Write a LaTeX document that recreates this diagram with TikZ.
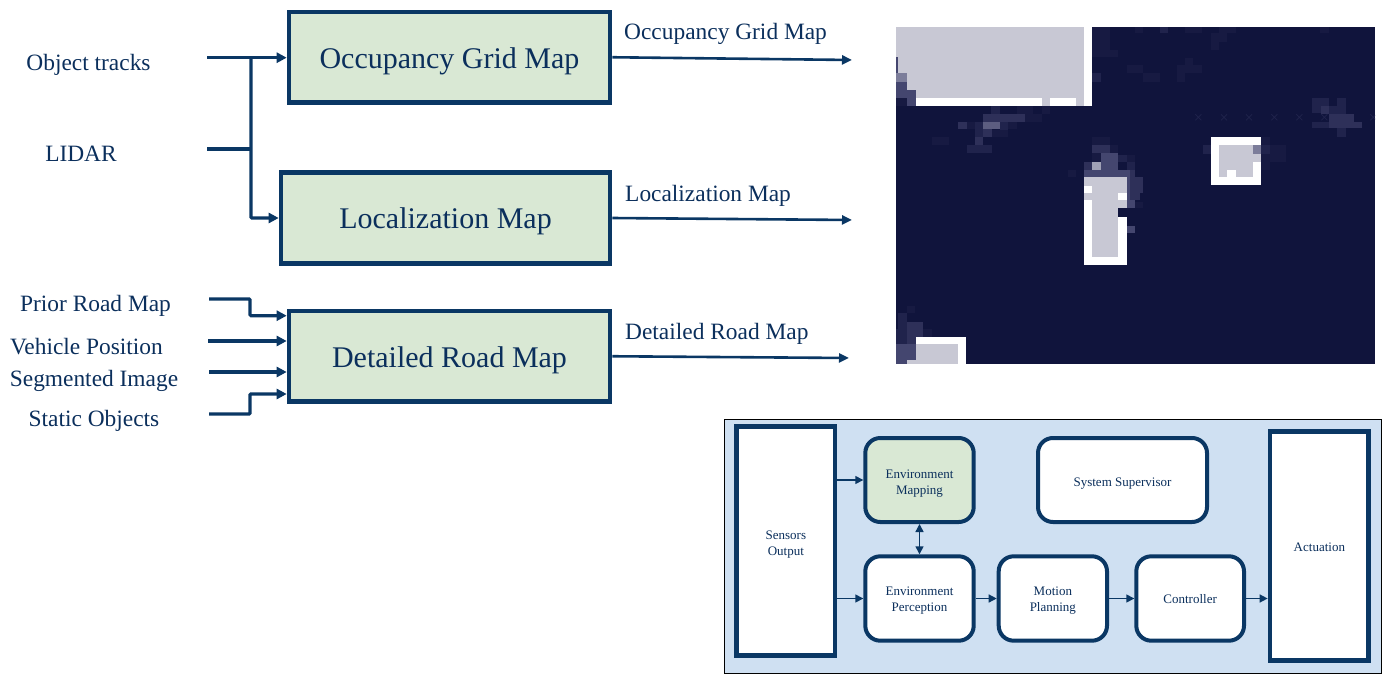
\documentclass[tikz,border=0pt]{standalone}
\usepackage{fontspec}
\setmainfont{Liberation Serif}
\usetikzlibrary{arrows.meta}
\definecolor{ink}{HTML}{0B2F5C}
\definecolor{linec}{HTML}{0A3764}
\definecolor{boxgreen}{HTML}{D9E8D4}
\definecolor{panel}{HTML}{CFE0F2}
\definecolor{navy}{HTML}{10143C}
\definecolor{gry}{HTML}{C8C8D4}
\definecolor{nA}{HTML}{171A42}
\definecolor{nB}{HTML}{20234C}
\definecolor{nC}{HTML}{2E3059}
\definecolor{nD}{HTML}{44466F}
\definecolor{nG}{HTML}{5C5D80}
\definecolor{nE}{HTML}{7C7D9A}
\definecolor{nF}{HTML}{A0A1B6}
\newcommand{\rc}[5]{\fill[#5] (#1,#2) rectangle (#3,#4);}
\newcommand{\lift}[1]{\rule{0pt}{#1pt}}
\tikzset{
  x=1pt,y=-1pt,
  bigbox/.style={draw=linec,fill=boxgreen,line width=4.6pt,rectangle,align=center,text=ink,font=\fontsize{30}{34}\selectfont},
  subbox/.style={draw=linec,fill=white,line width=4pt,rectangle,rounded corners=15pt,align=center,text=ink,font=\fontsize{13}{16}\selectfont},
  endbox/.style={draw=linec,fill=white,line width=4.7pt,rectangle,align=center,text=ink,font=\fontsize{13}{16}\selectfont},
  lab/.style={text=ink,font=\fontsize{23.4}{26}\selectfont,inner sep=0pt},
  thick wire/.style={draw=linec,line width=3.2pt},
  in arrow/.style={draw=linec,line width=3.2pt,-{Triangle[length=10pt,width=10pt]}},
  out arrow/.style={draw=linec,line width=2.6pt,-{Triangle[length=10pt,width=9pt]}},
  sub arrow/.style={draw=linec,line width=1.4pt,-{Triangle[length=8pt,width=8pt]}},
  both arrow/.style={draw=linec,line width=1.4pt,{Triangle[length=8pt,width=8pt]}-{Triangle[length=8pt,width=8pt]}},
}
\begin{document}
\begin{tikzpicture}
\useasboundingbox (0,0) rectangle (1389,682);
% map
\begin{scope}
\clip (896,27) rectangle (1375,364);
\fill[navy] (896,27) rectangle (1375,364);
\begin{scope}[shift={(890,20)},x=0.33333pt,y=-0.33333pt]
\rc{18}{22}{583}{257}{gry}
\rc{583}{22}{607}{257}{white}
\rc{77}{233}{455}{257}{white}
\rc{481}{233}{558}{257}{white}
\rc{18}{110}{24}{160}{nD}
\rc{18}{158}{50}{185}{nE}
\rc{18}{185}{50}{233}{nD}
\rc{50}{210}{77}{257}{nD}
\rc{18}{233}{50}{257}{nA}
\rc{607}{22}{660}{110}{nA}
\rc{660}{90}{683}{110}{nA}
\rc{607}{158}{633}{185}{nB}
\rc{710}{135}{750}{158}{nA}
\rc{304}{257}{330}{282}{nB}
\rc{380}{257}{430}{282}{nA}
\rc{455}{257}{480}{282}{nA}
\rc{280}{282}{405}{305}{nC}
\rc{405}{282}{455}{305}{nA}
\rc{205}{305}{230}{328}{nC}
\rc{230}{305}{255}{328}{nA}
\rc{255}{305}{280}{375}{nB}
\rc{280}{305}{330}{328}{nG}
\rc{330}{305}{355}{350}{nB}
\rc{355}{305}{380}{328}{nA}
\rc{280}{328}{305}{350}{nC}
\rc{305}{330}{355}{350}{nA}
\rc{255}{350}{280}{375}{nC}
\rc{230}{375}{305}{400}{nB}
\rc{125}{350}{178}{375}{nA}
% building top
\rc{607}{350}{660}{375}{nA}
\rc{607}{375}{660}{400}{nC}
\rc{660}{375}{685}{400}{nA}
\rc{633}{400}{685}{450}{nD}
\rc{607}{400}{633}{427}{nA}
\rc{607}{427}{633}{450}{nF}
\rc{583}{427}{607}{450}{nC}
\rc{683}{405}{710}{427}{nB}
\rc{710}{405}{735}{427}{nA}
\rc{710}{427}{735}{450}{nB}
\rc{583}{450}{735}{472}{nD}
\rc{535}{450}{558}{472}{nA}
\rc{735}{472}{750}{540}{nC}
\rc{710}{472}{735}{520}{nD}
\rc{583}{472}{710}{540}{gry}
\rc{583}{497}{607}{520}{white}
\rc{683}{520}{710}{540}{white}
\rc{710}{520}{735}{540}{nD}
\end{scope}
\begin{scope}[shift={(890,190)},x=0.33333pt,y=-0.33333pt]
\rc{607}{0}{683}{200}{gry}
\rc{583}{0}{607}{10}{white}
\rc{583}{10}{607}{30}{gry}
\rc{683}{0}{710}{10}{gry}
\rc{683}{10}{710}{30}{white}
\rc{683}{30}{710}{55}{gry}
\rc{710}{0}{735}{55}{nD}
\rc{735}{35}{760}{55}{nA}
\rc{735}{0}{760}{10}{nB}
\rc{583}{30}{607}{225}{white}
\rc{607}{200}{710}{225}{white}
\rc{683}{80}{710}{225}{white}
\rc{710}{107}{735}{130}{nD}
% lower-left building
\rc{50}{348}{75}{370}{nA}
\rc{25}{370}{50}{418}{nB}
\rc{50}{395}{100}{440}{nC}
\rc{100}{418}{125}{440}{nA}
\rc{18}{418}{50}{463}{nB}
\rc{50}{440}{77}{463}{nC}
\rc{18}{463}{77}{510}{nD}
\rc{18}{510}{50}{523}{nD}
\rc{77}{440}{228}{523}{white}
\rc{77}{463}{203}{523}{gry}
\rc{50}{510}{77}{523}{gry}
\end{scope}
\begin{scope}[shift={(1130,20)},x=0.33333pt,y=-0.33333pt]
\rc{15}{22}{40}{40}{nA}
\rc{90}{22}{115}{40}{nB}
\rc{165}{22}{215}{40}{nA}
\rc{268}{22}{318}{40}{nA}
\rc{243}{40}{290}{65}{nA}
\rc{243}{65}{268}{90}{nA}
\rc{570}{22}{597}{40}{nA}
\rc{165}{113}{190}{135}{nA}
\rc{140}{135}{215}{158}{nA}
\rc{140}{158}{165}{185}{nA}
\rc{0}{135}{38}{158}{nA}
\rc{38}{158}{90}{185}{nA}
\rc{547}{235}{597}{280}{nB}
\rc{622}{235}{647}{260}{nB}
\rc{597}{258}{647}{282}{nB}
\rc{572}{258}{597}{282}{nC}
\rc{597}{282}{672}{325}{nC}
\rc{547}{305}{597}{325}{nB}
\rc{672}{305}{697}{325}{nC}
\rc{622}{325}{647}{350}{nB}
\rc{0}{405}{15}{427}{nA}
\rc{0}{427}{15}{450}{nB}
\rc{0}{450}{15}{472}{nC}
\rc{0}{472}{38}{520}{nC}
\rc{0}{520}{15}{540}{nC}
\foreach \mx in {205,282,357,433,508,583,730}{
  \draw[nB,line width=0.7pt] (\mx-9,283) -- (\mx+9,301) (\mx-9,301) -- (\mx+9,283);
}
\rc{218}{375}{242}{403}{nB}
\rc{393}{350}{420}{375}{nA}
\rc{393}{375}{420}{403}{nB}
\rc{420}{375}{468}{427}{nA}
\rc{393}{403}{420}{427}{nA}
\rc{393}{427}{420}{450}{nA}
\rc{242}{350}{393}{495}{white}
\rc{268}{375}{368}{472}{gry}
\rc{368}{403}{393}{427}{gry}
\rc{368}{375}{393}{403}{nE}
\rc{368}{350}{393}{375}{white}
\rc{290}{450}{318}{472}{white}
\end{scope}
\end{scope}
% main boxes
\node[bigbox,minimum width=321pt,minimum height=90.5pt] (ogm) at (449.5,57.25) {\lift{28}Occupancy Grid Map};
\node[bigbox,minimum width=329pt,minimum height=91pt] (lm) at (445.5,218) {\lift{27}Localization Map};
\node[bigbox,minimum width=321pt,minimum height=90.5pt] (drm) at (449.5,356.25) {\lift{29}Detailed Road Map};
% labels
\node[lab] (tobj) at (88.5,65) {Object tracks};
\node[lab] (tlid) at (81,154) {LIDAR};
\node[lab] (tpri) at (95.5,306) {Prior Road Map};
\node[lab] (tveh) at (86.5,347) {Vehicle Position};
\node[lab] (tseg) at (94,380.5) {Segmented Image};
\node[lab] (tsta) at (94,421) {Static Objects};
\node[lab,anchor=west] (togm) at (624,34) {Occupancy Grid Map};
\node[lab,anchor=west] (tlm) at (625,196) {Localization Map};
\node[lab,anchor=west] (tdrm) at (625,334) {Detailed Road Map};
% free ends
\coordinate (cobj) at (207,57.7);
\coordinate (clid) at (207,149);
\coordinate (cjoin) at (251,57.7);
\coordinate (cpri) at (209,299);
\coordinate (cveh) at (208,341);
\coordinate (cseg) at (209,372);
\coordinate (csta) at (209,414);
\coordinate (eogm) at (852,60);
\coordinate (elm) at (852,220);
\coordinate (edrm) at (849,358);
% inputs
\draw[in arrow] (cobj) -- (ogm.west |- cobj);
\draw[thick wire] (clid) -- (cjoin |- clid);
\draw[in arrow,rounded corners=1pt] (cjoin) -- (cjoin |- lm.west) -- (lm.west);
\draw[in arrow,rounded corners=1pt] (cpri) -- (250,299) -- (250,315.7) -- (drm.west |- 0,315.7);
\draw[in arrow] (cveh) -- (drm.west |- cveh);
\draw[in arrow] (cseg) -- (drm.west |- cseg);
\draw[in arrow,rounded corners=1pt] (csta) -- (250,414) -- (250,394) -- (drm.west |- 0,394);
% outputs
\draw[out arrow] (ogm.east) -- (eogm);
\draw[out arrow] (lm.east) -- (elm);
\draw[out arrow] (drm.east) -- (edrm);
% panel
\node[draw=black,fill=panel,line width=1pt,rectangle,minimum width=657pt,minimum height=254.5pt,inner sep=0pt] (pan) at (1053,546.3) {};
\node[endbox,minimum width=98.3pt,minimum height=228.7pt] (sens) at (785.85,541) {\lift{15}Sensors\\Output};
\node[subbox,fill=boxgreen,minimum width=108.4pt,minimum height=84pt] (emap) at (919.5,480) {\lift{15}Environment\\Mapping};
\node[subbox,minimum width=108.4pt,minimum height=84.4pt] (eper) at (919.5,598.5) {\lift{13}Environment\\Perception};
\node[subbox,minimum width=108.3pt,minimum height=84.4pt] (moti) at (1052.85,598.5) {\lift{13}Motion\\Planning};
\node[subbox,minimum width=107.7pt,minimum height=84.4pt] (ctrl) at (1190.15,598.5) {\lift{11}Controller};
\node[subbox,minimum width=169pt,minimum height=84pt] (sup) at (1122.5,480) {\lift{15}System Supervisor};
\node[endbox,minimum width=98.7pt,minimum height=228.6pt] (act) at (1319.35,546) {\lift{12}Actuation};
\draw[sub arrow] (sens.east |- emap.west) -- (emap.west);
\draw[sub arrow] (sens.east |- eper.west) -- (eper.west);
\draw[both arrow] (emap.south) -- (eper.north);
\draw[sub arrow] (eper.east) -- (moti.west);
\draw[sub arrow] (moti.east) -- (ctrl.west);
\draw[sub arrow] (ctrl.east) -- (act.west |- ctrl.east);
\end{tikzpicture}
\end{document}
